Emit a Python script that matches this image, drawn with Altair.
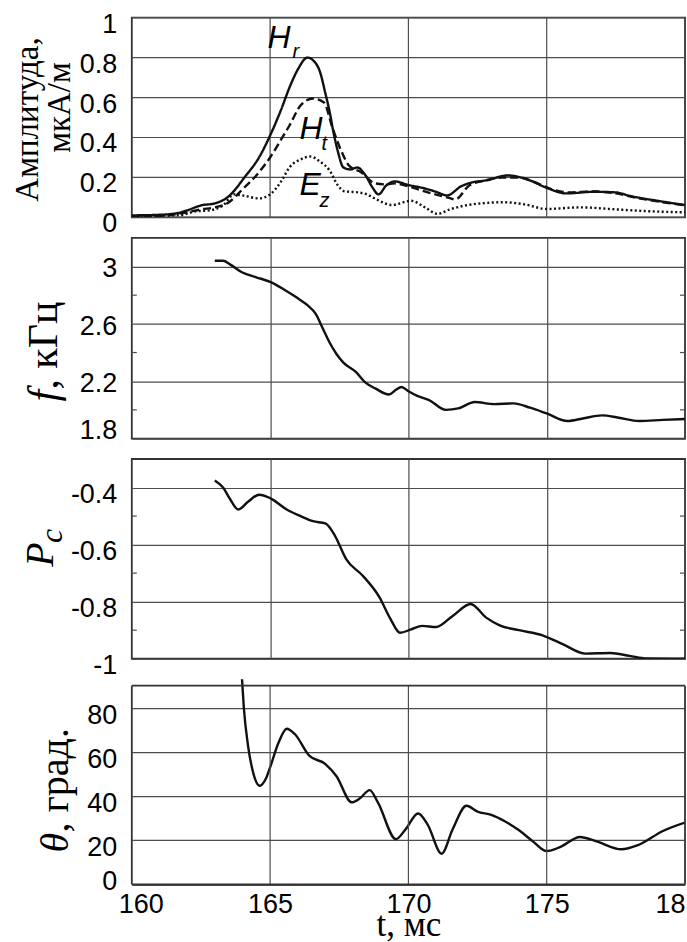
import altair as alt
import pandas as pd

# ---------------- data ----------------
# Panel 1: amplitudes (t in ms)
hr_t = [160.0, 160.8, 161.5, 162.0, 162.5, 163.0, 163.5, 164.1, 164.6, 165.0, 165.4,
        165.7, 166.0, 166.35, 166.6, 166.8, 167.0, 167.15, 167.3, 167.45, 167.65,
        167.9, 168.15, 168.45, 168.7, 168.92, 169.2, 169.5, 170.0, 170.5, 171.0,
        171.4, 171.9, 172.3, 172.8, 173.6, 174.3, 175.0, 175.7, 176.7, 177.5,
        178.0, 179.0, 180.0]
hr_v = [0.010, 0.012, 0.018, 0.035, 0.060, 0.070, 0.105, 0.205, 0.30, 0.41, 0.54,
        0.65, 0.74, 0.80, 0.78, 0.73, 0.62, 0.53, 0.42, 0.33, 0.25,
        0.24, 0.25, 0.21, 0.15, 0.115, 0.16, 0.18, 0.162, 0.148, 0.128,
        0.11, 0.155, 0.175, 0.185, 0.21, 0.19, 0.148, 0.12, 0.128, 0.125,
        0.108, 0.083, 0.062]

ht_t = [160.0, 161.0, 162.0, 162.5, 163.0, 163.5, 164.0, 164.5, 165.0, 165.4, 165.7,
        166.1, 166.55, 166.95, 167.25, 167.55, 167.85, 168.3, 168.8, 169.2, 169.5,
        170.0, 170.7, 171.4, 171.7, 172.2, 172.8, 173.4, 174.0, 174.5, 175.2,
        175.8, 176.7, 177.5, 178.0, 179.0, 180.0]
ht_v = [0.005, 0.008, 0.025, 0.040, 0.050, 0.075, 0.14, 0.21, 0.30, 0.39, 0.46,
        0.56, 0.595, 0.575, 0.45, 0.34, 0.26, 0.225, 0.17, 0.165, 0.17,
        0.155, 0.125, 0.10, 0.09, 0.16, 0.185, 0.20, 0.20, 0.18, 0.14,
        0.125, 0.13, 0.12, 0.105, 0.08, 0.06]

ez_t = [160.0, 161.0, 161.8, 162.3, 162.8, 163.3, 163.7, 164.0, 164.6, 165.0, 165.4,
        165.7, 166.1, 166.45, 166.8, 167.15, 167.45, 167.7, 168.2, 168.5, 168.85,
        169.4, 170.1, 170.6, 171.05, 171.5, 172.0, 172.8, 173.4, 174.2, 175.0,
        176.2, 177.5, 178.5, 180.0]
ez_v = [0.005, 0.008, 0.012, 0.030, 0.035, 0.060, 0.115, 0.11, 0.095, 0.115, 0.18,
        0.25, 0.29, 0.305, 0.28, 0.235, 0.16, 0.13, 0.125, 0.115, 0.09,
        0.062, 0.083, 0.05, 0.017, 0.04, 0.058, 0.072, 0.076, 0.065, 0.042,
        0.05, 0.04, 0.032, 0.025]

# Panel 2: frequency, kHz
f_t = [163.0, 163.3, 163.55, 164.0, 164.5, 165.0, 165.5, 165.95, 166.35, 166.65,
       166.9, 167.15, 167.4, 167.65, 168.1, 168.45, 168.8, 169.3, 169.55, 169.75,
       170.0, 170.3, 170.75, 171.35, 171.8, 172.4, 173.1, 173.8, 174.4, 175.0,
       175.75, 176.3, 177.0, 177.6, 178.35, 179.2, 180.0]
f_v = [3.04, 3.04, 3.015, 2.958, 2.925, 2.893, 2.84, 2.785, 2.73, 2.67,
       2.57, 2.47, 2.39, 2.33, 2.265, 2.19, 2.15, 2.107, 2.14, 2.16,
       2.13, 2.10, 2.068, 2.0, 2.01, 2.055, 2.04, 2.045, 2.015, 1.975,
       1.922, 1.94, 1.962, 1.945, 1.922, 1.93, 1.936]

# Panel 3: Pc
pc_t = [163.0, 163.3, 163.55, 163.85, 164.2, 164.6, 165.0, 165.6, 166.1, 166.55,
        167.0, 167.35, 167.75, 168.35, 168.95, 169.35, 169.7, 170.1, 170.5, 171.0,
        171.6, 172.25, 172.8, 173.3, 174.0, 174.85, 175.6, 176.4, 177.3, 178.0,
        178.6, 180.0]
pc_v = [-0.375, -0.40, -0.44, -0.477, -0.45, -0.425, -0.437, -0.477, -0.50, -0.518,
        -0.526, -0.57, -0.651, -0.709, -0.784, -0.86, -0.909, -0.897, -0.885, -0.889,
        -0.85, -0.808, -0.855, -0.883, -0.90, -0.918, -0.95, -0.982, -0.98, -0.99,
        -0.999, -1.0]

# Panel 4: theta, degrees
th_t = [163.97, 164.05, 164.2, 164.37, 164.62, 164.85, 165.0, 165.3, 165.6, 165.9,
        166.4, 167.0, 167.4, 167.95, 168.25, 168.6, 168.9, 169.55, 169.9, 170.35,
        170.7, 171.2, 171.6, 172.1, 172.5, 173.0, 173.5, 174.0, 174.5, 175.0,
        175.5, 176.2, 176.8, 177.7, 178.3, 179.2, 180.0]
th_v = [96, 80, 63, 51.5, 44.7, 48, 53, 64, 70.5, 68,
        58.5, 54.5, 49, 37.2, 39, 42.7, 37, 20.5, 25, 32.1,
        27, 13.9, 25, 35.6, 33, 31.5, 28.5, 24.5, 19.5, 15.1,
        17, 21.5, 19.5, 15.9, 17.8, 24.2, 28]

# ticks / grid values
x_lim = [160, 180]
x_ticks = [160, 165, 170, 175, 180]
x_grid = [165, 170, 175]
amp_ticks = [0, 0.2, 0.4, 0.6, 0.8, 1]
amp_lim = [0, 1]
f_ticks = [1.8, 2.2, 2.6, 3]
f_minor = [2.0, 2.4, 2.8]
pc_ticks = [-1, -0.8, -0.6, -0.4]
pc_minor = [-0.9, -0.7, -0.5]
th_ticks = [0, 20, 40, 60, 80]
th_lim = [0, 90]

# texts
series_names = ["Hr", "Ht", "Ez"]
amp_title = ["Амплитуда,", "мкА/м"]
f_title = ["f", ", кГц"]
pc_title = ["P", "c"]
th_title = ["θ", ", град."]
x_title = "t, мс"
ann_main = ["H", "H", "E"]
ann_sub = ["r", "t", "z"]

# ---------------- styling ----------------
W = 554
SANS = "Liberation Sans"
SERIF = "Liberation Serif"
INK = "#111111"
GRID = "#4d4d4d"
FRAME = "#333333"

xs = alt.Scale(domain=x_lim, nice=False, zero=False)
amp_s = alt.Scale(domain=amp_lim, nice=False, zero=False)
f_s = alt.Scale(domain=[1.8, 3.2], nice=False, zero=False)
pc_s = alt.Scale(domain=[-1, -0.3], nice=False, zero=False)
H4 = 205.5
EXTRA4 = H4 - 199
th_top = 90 + EXTRA4 * 90 / 199
th_s = alt.Scale(domain=[0, th_top], nice=False, zero=False)


def df(t, v):
    assert len(t) == len(v)
    return pd.DataFrame({"t": t, "v": v})


amp_df = pd.concat(
    [df(hr_t, hr_v).assign(series=series_names[0]),
     df(ht_t, ht_v).assign(series=series_names[1]),
     df(ez_t, ez_v).assign(series=series_names[2])],
    ignore_index=True,
)


def grid_x_axis(grid=True):
    return alt.Axis(values=x_grid, grid=grid, labels=False, ticks=False,
                    domain=False, title=None)


def y_axis(vals, offset, grid=True):
    return alt.Axis(values=vals, grid=grid, labelExpr="'' + datum.value",
                    labelPadding=15, labelOffset=offset, labelFlush=False,
                    labelOverlap=False, title=None)


def curve(data, scale, xaxis, yaxis):
    return alt.Chart(data).mark_line(
        color=INK, strokeWidth=2.4, interpolate="monotone", clip=True
    ).encode(
        x=alt.X("t:Q", scale=xs, axis=xaxis),
        y=alt.Y("v:Q", scale=scale, axis=yaxis),
    )


def minor(vals, scale, yaxis):
    d = pd.DataFrame({"v": vals})
    left = alt.Chart(d).mark_rule(color=GRID, strokeWidth=1.2).encode(
        y=alt.Y("v:Q", scale=scale, axis=yaxis), x=alt.value(0), x2=alt.value(5))
    right = alt.Chart(d).mark_rule(color=GRID, strokeWidth=1.2).encode(
        y=alt.Y("v:Q", scale=scale, axis=yaxis), x=alt.value(W - 5), x2=alt.value(W))
    return [left, right]


def vtext(text, x, y, size, align="center", italic=False):
    return alt.Chart(pd.DataFrame({"s": [text]})).mark_text(
        angle=270, font=SERIF, fontSize=size,
        fontStyle="italic" if italic else "normal",
        align=align, baseline="alphabetic", color="black",
    ).encode(x=alt.value(x), y=alt.value(y), text="s:N")


def htext(text, x, y, size):
    return alt.Chart(pd.DataFrame({"s": [text]})).mark_text(
        font=SANS, fontStyle="italic", fontSize=size, align="left",
        baseline="alphabetic", color="black",
    ).encode(x=alt.value(x), y=alt.value(y), text="s:N")


# ---------------- panel 1 ----------------
ax1x = grid_x_axis(grid=False)
ax1y = y_axis(amp_ticks, 6.5, grid=False)
hgrid1 = pd.DataFrame({"v": amp_ticks, "x": [x_lim[0]] * len(amp_ticks),
                       "x2": [x_lim[1]] * len(amp_ticks)})
vgrid1 = pd.DataFrame({"t": x_grid, "y": [amp_lim[0]] * len(x_grid),
                       "y2": [amp_lim[1]] * len(x_grid)})
amp_lines = alt.Chart(amp_df).mark_line(
    color=INK, strokeWidth=2.4, interpolate="monotone", clip=True
).encode(
    x=alt.X("t:Q", scale=xs, axis=ax1x),
    y=alt.Y("v:Q", scale=amp_s, axis=ax1y),
    strokeDash=alt.StrokeDash(
        "series:N",
        scale=alt.Scale(domain=series_names, range=[[1, 0], [8, 4], [2, 2.5]]),
        legend=None,
    ),
)
p1 = alt.layer(
    alt.Chart(hgrid1).mark_rule(color=GRID, strokeWidth=1.2).encode(
        x=alt.X("x:Q", scale=xs, axis=ax1x), x2="x2:Q",
        y=alt.Y("v:Q", scale=amp_s, axis=ax1y)),
    alt.Chart(vgrid1).mark_rule(color=GRID, strokeWidth=1.2).encode(
        x=alt.X("t:Q", scale=xs, axis=ax1x),
        y=alt.Y("y:Q", scale=amp_s, axis=ax1y), y2="y2:Q"),
    amp_lines,
    htext(ann_main[0], 136, 30, 32),
    htext(ann_sub[0], 161, 40, 20),
    htext(ann_main[1], 168, 122, 32),
    htext(ann_sub[1], 190, 133, 20),
    htext(ann_main[2], 168, 178, 32),
    htext(ann_sub[2], 188, 190, 20),
    vtext(amp_title[0], -94, 102, 33),
    vtext(amp_title[1], -62, 90, 33),
).properties(width=W, height=200)

# ---------------- panel 2 ----------------
ax2x = grid_x_axis()
ax2y = y_axis(f_ticks, {"condition": {"test": "datum.value < 1.9", "value": -8.5},
                        "value": 2.5})
p2 = alt.layer(
    curve(df(f_t, f_v), f_s, ax2x, ax2y),
    *minor(f_minor, f_s, ax2y),
    vtext(f_title[0], -75, 164, 42, align="left", italic=True),
    vtext(f_title[1], -75, 152, 42, align="left"),
).properties(width=W, height=201)

# ---------------- panel 3 ----------------
ax3x = grid_x_axis()
ax3y = y_axis(pc_ticks, 6.5)
p3 = alt.layer(
    curve(df(pc_t, pc_v), pc_s, ax3x, ax3y),
    *minor(pc_minor, pc_s, ax3y),
    vtext(pc_title[0], -79, 108, 40, align="left", italic=True),
    vtext(pc_title[1], -70, 84, 32, align="left", italic=True),
).properties(width=W, height=200)

# ---------------- panel 4 ----------------
ax4x = alt.Axis(
    values=x_ticks, grid=False, domain=False, ticks=False,
    labelExpr="datum.value == 180 ? '18' : '' + datum.value",
    labelAlign={"condition": {"test": "datum.value == 180", "value": "right"},
                "value": "center"},
    labelOffset={"condition": {"test": "datum.value == 160", "value": 9}, "value": 0},
    labelFlush=False, labelPadding=7,
    title=x_title, titleFont=SERIF, titleFontSize=35, titleFontWeight="normal",
    titleColor="black", titleY=51, titleBaseline="alphabetic",
)
ax4y = y_axis(th_ticks, {"condition": {"test": "datum.value == 0", "value": -3},
                         "value": 7.5})
frame4 = pd.DataFrame({
    "x": [x_lim[0], x_lim[0], x_lim[0], x_lim[1]],
    "x2": [x_lim[1], x_lim[1], x_lim[0], x_lim[1]],
    "y": [th_lim[1], th_lim[0], th_lim[0], th_lim[0]],
    "y2": [th_lim[1], th_lim[0], th_lim[1], th_lim[1]],
})
grid4 = pd.DataFrame({"x": x_grid, "y": [th_lim[0]] * 3, "y2": [th_lim[1]] * 3})

p4 = alt.layer(
    curve(df(th_t, th_v), th_s, ax4x, ax4y),
    alt.Chart(grid4).mark_rule(color=GRID, strokeWidth=1.2).encode(
        x=alt.X("x:Q", scale=xs, axis=ax4x),
        y=alt.Y("y:Q", scale=th_s, axis=ax4y), y2="y2:Q"),
    alt.Chart(frame4).mark_rule(color=FRAME, strokeWidth=1.8).encode(
        x=alt.X("x:Q", scale=xs, axis=ax4x), x2="x2:Q",
        y=alt.Y("y:Q", scale=th_s, axis=ax4y), y2="y2:Q"),
    vtext(th_title[0], -64, 167 + EXTRA4, 40, align="left", italic=True),
    vtext(th_title[1], -64, 147 + EXTRA4, 40, align="left"),
).properties(width=W, height=H4, view=alt.ViewBackground(stroke="transparent"))

chart = alt.vconcat(p1, p2, p3, p4, spacing=20.5, bounds="flush").properties(
    padding={"left": 11, "top": 8, "right": 0, "bottom": 0},
    background="white",
).configure_view(
    stroke=FRAME, strokeWidth=1.8,
).configure_axis(
    labelFont=SANS, labelFontSize=27, labelColor="black",
    gridColor=GRID, gridWidth=1.2, gridOpacity=1,
    domain=False, ticks=False,
)

chart.save("out.html", embed_options={"renderer": "svg", "actions": False})
